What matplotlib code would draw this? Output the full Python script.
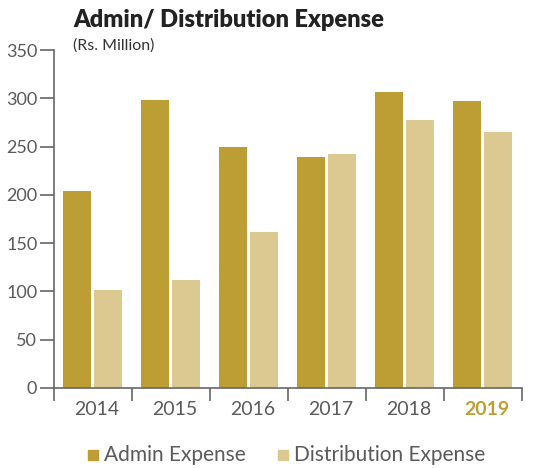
import matplotlib

matplotlib.use("Agg")
import matplotlib.pyplot as plt
import numpy as np
from matplotlib.patches import Rectangle

years = ["2014", "2015", "2016", "2017", "2018", "2019"]
admin_expense = [204, 298, 250, 239, 306, 297]
distribution_expense = [101, 112, 162, 242, 278, 265]
y_ticks = [0, 50, 100, 150, 200, 250, 300, 350]

ADMIN_COLOR = "#bd9e35"
DIST_COLOR = "#dcc991"
AXIS_COLOR = "#666666"
TEXT_COLOR = "#5a5a5a"

plt.rcParams["font.family"] = ["Lato", "DejaVu Sans"]

fig = plt.figure(figsize=(5.38, 4.68), dpi=100)
ax = fig.add_axes([54 / 538, 80 / 468, 468 / 538, 338 / 468])

groups = np.arange(len(years))
bar_w = 0.36
ax.bar(groups + 0.115, admin_expense, width=bar_w, align="edge", color=ADMIN_COLOR)
ax.bar(groups + 0.515, distribution_expense, width=bar_w, align="edge", color=DIST_COLOR)

ax.set_xlim(0, len(years))
ax.set_ylim(0, 350)

for side in ("top", "right"):
    ax.spines[side].set_visible(False)
for side in ("left", "bottom"):
    ax.spines[side].set_color(AXIS_COLOR)
    ax.spines[side].set_linewidth(1.2)

ax.set_yticks(y_ticks)
ax.tick_params(axis="y", length=10, width=1.2, color=AXIS_COLOR, labelcolor=TEXT_COLOR,
               labelsize=13, pad=2)

# group boundary ticks below the axis, year labels centred between them
ax.set_xticks(np.arange(len(years) + 1))
ax.set_xticklabels([])
ax.tick_params(axis="x", length=9, width=1.2, color=AXIS_COLOR)
for i, year in enumerate(years):
    last = i == len(years) - 1
    ax.text(i + 0.55, -0.065, year, transform=ax.get_xaxis_transform(), ha="center", va="center",
            fontsize=14, color=ADMIN_COLOR if last else TEXT_COLOR,
            fontweight="bold" if last else "normal")

fig.text(73 / 538, 1 - 20 / 468, "Admin/ Distribution Expense", fontsize=17, fontweight="heavy",
         color="#222222", ha="left", va="center")
fig.text(73 / 538, 1 - 46 / 468, "(Rs. Million)", fontsize=11.5, color="#333333", ha="left", va="center")

# legend row
legend_y = 1 - 455 / 468
for sx, color, label in [(88, ADMIN_COLOR, "Admin Expense"), (278, DIST_COLOR, "Distribution Expense")]:
    fig.patches.append(Rectangle((sx / 538, legend_y - 5 / 468), 10 / 538, 10 / 468,
                                 transform=fig.transFigure, color=color))
    fig.text((sx + 16) / 538, legend_y, label, fontsize=15, color=TEXT_COLOR,
             ha="left", va="center")

fig.savefig("out.png", dpi=100)
